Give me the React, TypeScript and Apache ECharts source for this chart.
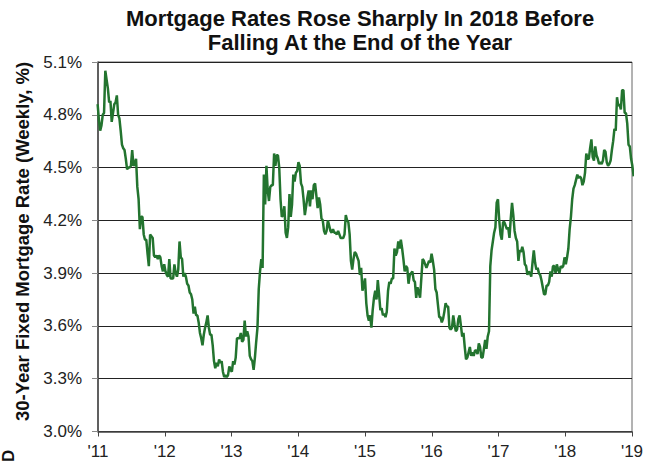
import React, { useEffect, useRef } from "react";
import * as echarts from "echarts";

// Weekly 30-year fixed mortgage rates (%), one array per calendar year,
// each with the date of its first weekly observation.
const rates2011 = [4.86, 4.77, 4.71, 4.74, 4.80, 4.81, 5.05, 5.00, 4.95, 4.87, 4.88, 4.76, 4.81, 4.86, 4.87, 4.91, 4.80, 4.78, 4.71, 4.63, 4.61, 4.60, 4.55, 4.49, 4.50, 4.50, 4.51, 4.60, 4.51, 4.52, 4.55, 4.39, 4.32, 4.15, 4.22, 4.22, 4.12, 4.09, 4.09, 4.01, 3.94, 4.12, 4.11, 4.10, 4.00, 3.99, 4.00, 3.98, 4.00, 3.99, 3.94, 3.91, 3.95];
const rates2012 = [3.91, 3.89, 3.88, 3.98, 3.87, 3.87, 3.87, 3.95, 3.90, 3.88, 3.92, 4.08, 3.99, 3.98, 3.88, 3.90, 3.88, 3.84, 3.83, 3.79, 3.78, 3.75, 3.67, 3.71, 3.66, 3.66, 3.62, 3.56, 3.53, 3.49, 3.55, 3.59, 3.62, 3.66, 3.59, 3.55, 3.55, 3.49, 3.40, 3.36, 3.39, 3.37, 3.41, 3.39, 3.40, 3.34, 3.31, 3.32, 3.31, 3.32, 3.37, 3.35];
const rates2013 = [3.34, 3.40, 3.38, 3.42, 3.53, 3.53, 3.53, 3.56, 3.51, 3.52, 3.63, 3.54, 3.57, 3.54, 3.43, 3.41, 3.40, 3.35, 3.42, 3.51, 3.59, 3.81, 3.91, 3.98, 3.93, 4.46, 4.29, 4.51, 4.37, 4.31, 4.39, 4.40, 4.40, 4.58, 4.51, 4.57, 4.57, 4.50, 4.32, 4.22, 4.23, 4.28, 4.13, 4.10, 4.16, 4.35, 4.22, 4.29, 4.46, 4.42, 4.47, 4.48];
const rates2014 = [4.53, 4.51, 4.41, 4.39, 4.32, 4.23, 4.28, 4.33, 4.37, 4.28, 4.37, 4.32, 4.40, 4.41, 4.34, 4.27, 4.33, 4.29, 4.21, 4.20, 4.14, 4.12, 4.14, 4.20, 4.17, 4.14, 4.13, 4.15, 4.13, 4.13, 4.12, 4.14, 4.12, 4.10, 4.10, 4.10, 4.12, 4.23, 4.20, 4.19, 4.12, 3.97, 3.92, 3.98, 4.02, 4.01, 3.99, 3.97, 3.89, 3.93, 3.80, 3.83];
const rates2015 = [3.87, 3.73, 3.66, 3.63, 3.66, 3.59, 3.69, 3.76, 3.80, 3.75, 3.86, 3.78, 3.69, 3.70, 3.66, 3.67, 3.65, 3.68, 3.80, 3.85, 3.84, 3.87, 3.87, 4.04, 4.00, 4.02, 4.08, 4.04, 4.09, 4.04, 3.98, 3.91, 3.94, 3.93, 3.84, 3.89, 3.90, 3.91, 3.86, 3.85, 3.76, 3.82, 3.79, 3.76, 3.87, 3.98, 3.97, 3.95, 3.93, 3.95, 3.97, 3.96, 4.01];
const rates2016 = [3.97, 3.92, 3.81, 3.79, 3.72, 3.65, 3.65, 3.62, 3.64, 3.68, 3.73, 3.71, 3.71, 3.59, 3.58, 3.59, 3.66, 3.61, 3.57, 3.58, 3.64, 3.66, 3.60, 3.54, 3.56, 3.48, 3.41, 3.42, 3.45, 3.48, 3.43, 3.45, 3.43, 3.46, 3.46, 3.44, 3.50, 3.48, 3.42, 3.42, 3.47, 3.52, 3.47, 3.54, 3.57, 3.94, 4.03, 4.08, 4.13, 4.16, 4.30, 4.32];
const rates2017 = [4.20, 4.12, 4.09, 4.19, 4.19, 4.17, 4.15, 4.16, 4.10, 4.21, 4.30, 4.23, 4.14, 4.10, 4.08, 3.97, 4.03, 4.02, 4.05, 4.02, 3.95, 3.94, 3.89, 3.91, 3.90, 3.88, 3.96, 4.03, 3.96, 3.92, 3.93, 3.90, 3.89, 3.86, 3.82, 3.78, 3.78, 3.83, 3.83, 3.85, 3.91, 3.88, 3.94, 3.94, 3.90, 3.95, 3.92, 3.90, 3.94, 3.93, 3.94, 3.99];
const rates2018 = [3.95, 3.99, 4.04, 4.15, 4.22, 4.32, 4.38, 4.40, 4.43, 4.46, 4.44, 4.45, 4.44, 4.40, 4.42, 4.47, 4.58, 4.55, 4.55, 4.61, 4.66, 4.56, 4.54, 4.62, 4.57, 4.55, 4.52, 4.53, 4.52, 4.54, 4.60, 4.59, 4.53, 4.51, 4.52, 4.54, 4.60, 4.65, 4.72, 4.71, 4.90, 4.85, 4.86, 4.83, 4.94, 4.94, 4.81, 4.81, 4.75, 4.63, 4.62, 4.55];
const rates2019 = [4.51, 4.45];

const yearBlocks: { start: string; values: number[] }[] = [
  { start: "2010-12-30", values: rates2011 },
  { start: "2012-01-05", values: rates2012 },
  { start: "2013-01-03", values: rates2013 },
  { start: "2014-01-02", values: rates2014 },
  { start: "2015-01-01", values: rates2015 },
  { start: "2016-01-07", values: rates2016 },
  { start: "2017-01-05", values: rates2017 },
  { start: "2018-01-04", values: rates2018 },
  { start: "2019-01-03", values: rates2019 },
];

const xTickYears = [2011, 2012, 2013, 2014, 2015, 2016, 2017, 2018, 2019];
const yTicks = [3.0, 3.3, 3.6, 3.9, 4.2, 4.5, 4.8, 5.1];

const TITLE = "Mortgage Rates Rose Sharply In 2018 Before\nFalling At the End of the Year";
const Y_NAME = "30-Year Fixed Mortgage Rate (Weekly, %)";

const DAY = 86400000;
function toYearFrac(ms: number): number {
  const d = new Date(ms);
  const y = d.getUTCFullYear();
  const s = Date.UTC(y, 0, 1);
  const e = Date.UTC(y + 1, 0, 1);
  return y + (ms - s) / (e - s);
}

function buildPoints(): number[][] {
  const pts: number[][] = [];
  yearBlocks.forEach((b) => {
    const t0 = Date.parse(b.start + "T00:00:00Z");
    b.values.forEach((v, i) => pts.push([toYearFrac(t0 + i * 7 * DAY), v]));
  });
  return pts;
}

const FONT = "'Liberation Sans', Arial, sans-serif";

export default function App() {
  const ref = useRef<HTMLDivElement>(null);
  useEffect(() => {
    if (!ref.current) return;
    const chart = echarts.init(ref.current, undefined, { renderer: "svg" });
    chart.setOption({
      animation: false,
      backgroundColor: "#ffffff",
      title: {
        text: TITLE,
        left: 355,
        top: 1,
        textAlign: "center",
        textStyle: { fontFamily: FONT, fontSize: 22, fontWeight: "bold", color: "#111", lineHeight: 24 },
      },
      grid: { left: 98, right: 25, top: 62, bottom: 31.5, show: true, borderColor: "#666", borderWidth: 1 },
      xAxis: {
        type: "value",
        min: xTickYears[0],
        max: xTickYears[xTickYears.length - 1],
        interval: 1,
        axisLine: { show: true, lineStyle: { color: "#444", width: 1.5 } },
        axisTick: { show: true, length: 5, lineStyle: { color: "#444" } },
        splitLine: { show: false },
        axisLabel: {
          fontFamily: FONT,
          fontSize: 17,
          color: "#222",
          margin: 11,
          formatter: (v: number) => "'" + String(Math.round(v)).slice(2),
        },
      },
      yAxis: {
        type: "value",
        min: yTicks[0],
        max: yTicks[yTicks.length - 1],
        interval: 0.3,
        axisLine: { show: true, lineStyle: { color: "#444", width: 1.5 } },
        axisTick: { show: true, length: 6, lineStyle: { color: "#888" } },
        splitLine: { show: true, lineStyle: { color: "#222", width: 1 } },
        axisLabel: {
          fontFamily: FONT,
          fontSize: 17,
          color: "#222",
          margin: 16,
          formatter: (v: number) => v.toFixed(1) + "%",
        },
      },
      graphic: [
        {
          type: "text",
          x: 22,
          y: 241.5,
          rotation: Math.PI / 2,
          style: {
            text: Y_NAME,
            fontFamily: FONT,
            fontSize: 18.5,
            fontWeight: "bold",
            fill: "#111",
            textAlign: "center",
            textVerticalAlign: "middle",
          },
        },
        {
          type: "text",
          x: 0,
          y: 462,
          rotation: Math.PI / 2,
          style: {
            text: "D",
            fontFamily: FONT,
            fontSize: 17,
            fontWeight: "bold",
            fill: "#111",
            textAlign: "left",
            textVerticalAlign: "top",
          },
        },
      ],
      series: [
        {
          type: "line",
          data: buildPoints(),
          showSymbol: false,
          clip: true,
          lineStyle: { color: "#23742f", width: 2.5 },
          itemStyle: { color: "#23742f" },
        },
      ],
    });
    return () => chart.dispose();
  }, []);
  return <div ref={ref} style={{ position: "fixed", left: 0, top: 0, width: 657, height: 463 }} />;
}
